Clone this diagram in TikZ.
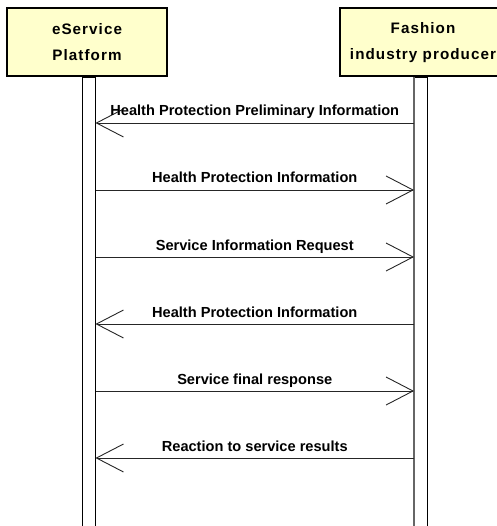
\documentclass[tikz,border=0pt]{standalone}
\usepackage{fontspec}
\setmainfont{Liberation Sans}
\newfontfamily\boxfont[LetterSpace=7]{Liberation Sans}
\usetikzlibrary{arrows.meta,calc}
\definecolor{actorfill}{RGB}{255,255,204}
\tikzset{
  actor/.style={draw=black, line width=2pt, fill=actorfill, minimum height=68pt,
    inner sep=0pt, align=center, font=\boxfont\bfseries\fontsize{15.2}{26}\selectfont},
  lifebar/.style={draw=black, line width=1pt, fill=white, minimum width=13pt, minimum height=470pt,
    inner sep=0pt, anchor=north},
  msg/.style={draw=black!85, line width=0.9pt, -{Straight Barb[length=27pt, width=28pt, line width=0.9pt]}},
  msglabel/.style={font=\bfseries\fontsize{14.6}{14.6}\selectfont, anchor=base, inner sep=0pt}
}
\begin{document}
\begin{tikzpicture}[x=1pt, y=-1pt]
\useasboundingbox (0,0) rectangle (496,526);
\node[actor, minimum width=160pt] (A) at (87,42.5) {eService\\Platform};
\node[actor, minimum width=166pt] (B) at (423,42.5) {Fashion\\industry producer};
\node[lifebar] (LA) at (88.5,77) {};
\node[lifebar] (LB) at (421,77) {};
\draw[black!60, line width=2pt] (LB.north west) -- (LB.south west);
% messages
\foreach \y/\dir/\txt [count=\i] in {
  123/l/Health Protection Preliminary Information,
  190/r/Health Protection Information,
  257/r/Service Information Request,
  324/l/Health Protection Information,
  391/r/Service final response,
  458/l/Reaction to service results} {
  \coordinate (L\i) at (LA.east |- 0,\y);
  \coordinate (R\i) at (LB.west |- 0,\y);
  \if l\dir
    \draw[msg] (R\i) -- (L\i);
  \else
    \draw[msg] (L\i) -- (R\i);
  \fi
  \node[msglabel] (T\i) at ($(L\i)!0.5!(R\i) + (0,-7)$) {\txt};
}
\end{tikzpicture}
\end{document}
